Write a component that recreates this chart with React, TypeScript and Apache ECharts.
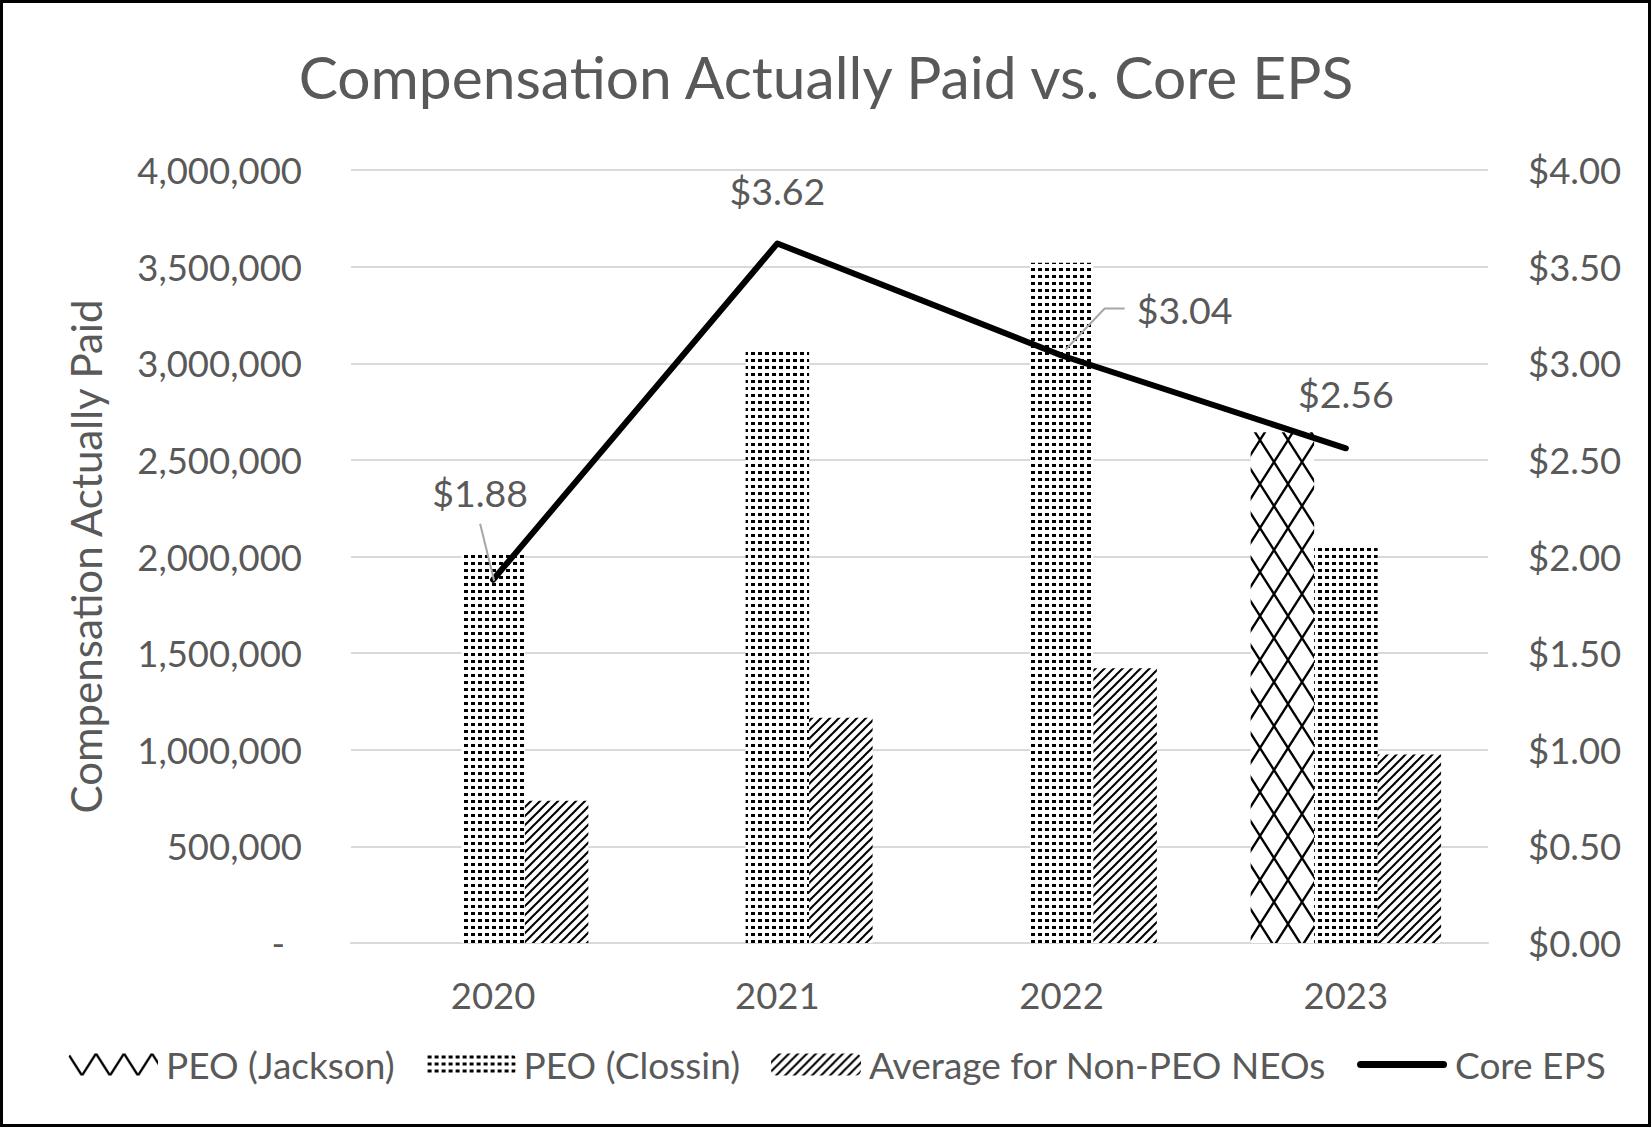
import React, { useEffect, useRef } from "react";
import * as echarts from "echarts";

const years = ["2020", "2021", "2022", "2023"];
const peoJackson = [null, null, null, 2643000];
const peoClossin = [2016000, 3063000, 3520000, 2049000];
const nonPeoAvg = [736000, 1166000, 1422000, 975000];
const coreEps = [1.88, 3.62, 3.04, 2.56];

const seriesNames = ["PEO (Jackson)", "PEO (Clossin)", "Average for Non-PEO NEOs", "Core EPS"];
const titleText = "Compensation Actually Paid vs. Core EPS";
const leftAxisName = "Compensation Actually Paid";

const FONT = "Lato";
const GREY = "#595959";

function makeTile(w: number, h: number, draw: (ctx: CanvasRenderingContext2D) => void) {
  const c = document.createElement("canvas");
  c.width = w;
  c.height = h;
  const ctx = c.getContext("2d") as CanvasRenderingContext2D;
  ctx.fillStyle = "#fff";
  ctx.fillRect(0, 0, w, h);
  ctx.fillStyle = "#000";
  ctx.strokeStyle = "#000";
  draw(ctx);
  return { image: c.toDataURL(), repeat: "repeat", imageWidth: w, imageHeight: h };
}

// label placement relative to each EPS point (style, not data)
const labelOffsets = [
  [-13, -87],
  [0, -53],
  [123, -46],
  [0, -55],
];
// leader polylines relative to each EPS point (null = no leader)
const leaders: (number[][] | null)[] = [
  [
    [-13, -56],
    [1, 1],
  ],
  null,
  [
    [63, -47],
    [43, -47],
    [4, -6],
  ],
  null,
];

export default function App() {
  const ref = useRef<HTMLDivElement>(null);
  useEffect(() => {
    document.body.style.margin = "0";
    if (!ref.current) return;
    const chart = echarts.init(ref.current, null, { renderer: "svg" });

    const dots = makeTile(7, 7, (ctx) => {
      ctx.fillRect(2, 2, 4, 3);
    });
    const hatch = makeTile(9, 9, (ctx) => {
      ctx.lineWidth = 2;
      for (const o of [-9, 0, 9]) {
        ctx.beginPath();
        ctx.moveTo(o - 1, 10);
        ctx.lineTo(o + 10, -1);
        ctx.stroke();
      }
    });
    const lattice = makeTile(28, 44, (ctx) => {
      ctx.lineWidth = 2.3;
      for (const ox of [-28, 0, 28]) {
        for (const oy of [-44, 0, 44]) {
          ctx.beginPath();
          ctx.moveTo(ox, oy);
          ctx.lineTo(ox + 28, oy + 44);
          ctx.moveTo(ox + 28, oy);
          ctx.lineTo(ox, oy + 44);
          ctx.stroke();
        }
      }
    });

    const textBase = { fontFamily: FONT, color: GREY };
    const AX = 36.5;

    chart.setOption({
      animation: false,
      backgroundColor: "#fff",
      title: {
        text: titleText,
        left: "center",
        top: 42,
        textStyle: { ...textBase, fontSize: 58.7, fontWeight: "normal" },
      },
      legend: {
        data: [
          { name: seriesNames[0] },
          { name: seriesNames[1] },
          { name: seriesNames[2] },
          {
            name: seriesNames[3],
            icon: "path://M0,0 M3.5,7.5 L86.5,7.5 A3.5,3.5 0 0 1 86.5,14.5 L3.5,14.5 A3.5,3.5 0 0 1 3.5,7.5 Z M90,22",
          },
        ],
        left: 63,
        top: 1041,
        itemWidth: 90,
        itemHeight: 22,
        itemGap: 31,
        textStyle: { ...textBase, fontSize: 37, padding: [0, 0, 0, 3] },
      },
      grid: { left: 351, right: 164, top: 170, bottom: 187, containLabel: false },
      xAxis: {
        type: "category",
        data: years,
        axisTick: { show: false },
        axisLine: { lineStyle: { color: "#d9d9d9", width: 2 } },
        axisLabel: { ...textBase, fontSize: AX, margin: 33 },
      },
      yAxis: [
        {
          type: "value",
          min: 0,
          max: 4000000,
          interval: 500000,
          name: leftAxisName,
          nameLocation: "middle",
          nameGap: 244,
          nameRotate: 90,
          nameTextStyle: { ...textBase, fontSize: 42 },
          axisLine: { show: false },
          axisTick: { show: false },
          splitLine: { lineStyle: { color: "#d9d9d9", width: 2 } },
          axisLabel: {
            ...textBase,
            fontSize: AX,
            margin: 49,
            formatter: (v: number) => (v === 0 ? "{d|-}" : v.toLocaleString("en-US")),
            rich: { d: { ...textBase, fontSize: AX, padding: [0, 17, 0, 0] } },
          },
        },
        {
          type: "value",
          min: 0,
          max: 4,
          interval: 0.5,
          position: "right",
          axisLine: { show: false },
          axisTick: { show: false },
          splitLine: { show: false },
          axisLabel: {
            ...textBase,
            fontSize: AX,
            margin: 40,
            formatter: (v: number) => "$" + v.toFixed(2),
          },
        },
      ],
      series: [
        {
          name: seriesNames[0],
          type: "bar",
          data: peoJackson,
          barGap: "0%",
          barCategoryGap: "33%",
          itemStyle: { color: lattice },
        },
        {
          name: seriesNames[1],
          type: "bar",
          data: peoClossin,
          barGap: "0%",
          barCategoryGap: "33%",
          itemStyle: { color: dots },
        },
        {
          name: seriesNames[2],
          type: "bar",
          data: nonPeoAvg,
          barGap: "0%",
          barCategoryGap: "33%",
          itemStyle: { color: hatch },
        },
        {
          name: seriesNames[3],
          type: "line",
          yAxisIndex: 1,
          data: coreEps,
          color: "#000",
          symbol: "none",
          showSymbol: false,
          z: 5,
          lineStyle: { color: "#000", width: 6, cap: "round", join: "round" },
          itemStyle: { color: "#000" },
          emphasis: { disabled: true },
        },
        {
          name: "eps-labels",
          type: "custom",
          yAxisIndex: 1,
          z: 6,
          silent: true,
          data: coreEps.map((v, i) => [i, v]),
          renderItem: (params: any, api: any) => {
            const i = api.value(0);
            const v = api.value(1);
            const p = api.coord([i, v]);
            const off = labelOffsets[i];
            const children: any[] = [
              {
                type: "text",
                style: {
                  text: "$" + Number(v).toFixed(2),
                  x: p[0] + off[0],
                  y: p[1] + off[1],
                  align: "center",
                  verticalAlign: "middle",
                  fontSize: 37.5,
                  fontFamily: FONT,
                  fill: GREY,
                },
              },
            ];
            const ld = leaders[i];
            if (ld) {
              children.push({
                type: "polyline",
                shape: { points: ld.map((q) => [p[0] + q[0], p[1] + q[1]]) },
                style: { stroke: "#a6a6a6", lineWidth: 2, fill: "none" },
              });
            }
            return { type: "group", children };
          },
        },
      ],
      graphic: [
        {
          type: "rect",
          shape: { x: 1.5, y: 1.5, width: 1648, height: 1124 },
          style: { fill: "none", stroke: "#000", lineWidth: 3 },
          silent: true,
          z: 100,
        },
      ],
    });
    return () => chart.dispose();
  }, []);
  return <div ref={ref} style={{ width: 1652, height: 1130 }} />;
}
